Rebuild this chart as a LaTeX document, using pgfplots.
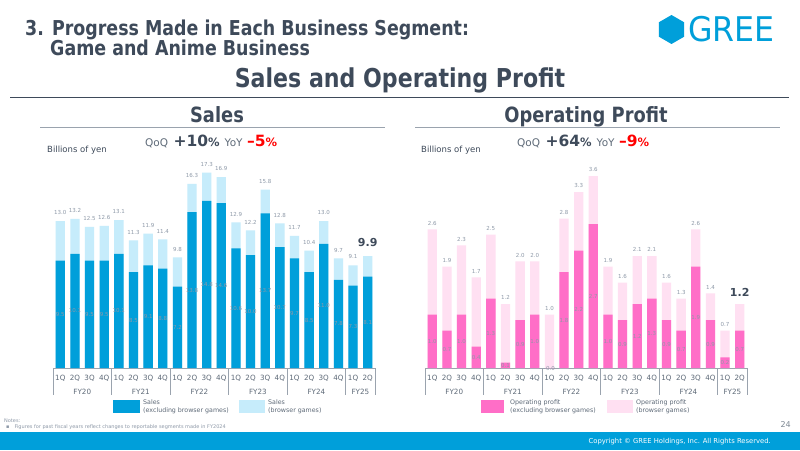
\documentclass[border=0pt]{standalone}
\usepackage{fontspec}
\setmainfont{DejaVu Sans}
\newfontfamily\titlefont[FakeStretch=0.85]{DejaVu Sans}
\usepackage{pgfplots}
\usepackage{pgfplotstable}
\pgfplotsset{compat=1.18}
\definecolor{slate}{HTML}{3E4A5A}
\definecolor{lblgrey}{HTML}{8E99A8}
\definecolor{tickgrey}{HTML}{5E6A78}
\definecolor{gblue}{HTML}{009FDA}
\definecolor{lblue}{HTML}{C6ECFB}
\definecolor{gpink}{HTML}{FF6EC7}
\definecolor{lpink}{HTML}{FFE0F2}
\definecolor{rulegrey}{HTML}{9AA3AE}

\pgfplotstableread{
i tot ex
0 13.0 9.5
1 13.2 10.1
2 12.5 9.5
3 12.6 9.5
4 13.1 10.1
5 11.3 8.5
6 11.9 9.1
7 11.4 8.8
8 9.8 7.2
9 16.3 13.8
10 17.3 14.8
11 16.9 14.6
12 12.9 10.6
13 12.2 10.0
14 15.8 13.7
15 12.8 10.7
16 11.7 9.7
17 10.4 8.5
18 13.0 11.0
19 9.7 7.8
20 9.1 7.3
21 9.9 8.1
}\salesdata

\pgfplotstableread{
i tot ex
0 2.6 1.0
1 1.9 0.7
2 2.3 1.0
3 1.7 0.4
4 2.5 1.3
5 1.2 0.1
6 2.0 0.9
7 2.0 1.0
8 1.0 -0.0
9 2.8 1.8
10 3.3 2.2
11 3.6 2.7
12 1.9 1.0
13 1.6 0.9
14 2.1 1.2
15 2.1 1.3
16 1.6 0.9
17 1.3 0.7
18 2.6 1.9
19 1.4 0.9
20 0.7 0.2
21 1.2 0.7
}\opdata

\pgfplotsset{
  gaxis/.style={
    anchor=south west, scale only axis, width=322pt,
    xmin=-0.5, xmax=21.5, ymin=0,
    axis x line*=bottom, axis y line=none,
    x axis line style={-, draw=rulegrey, line width=0.8pt},
    xtick={0,...,21},
    xticklabels={1Q,2Q,3Q,4Q,1Q,2Q,3Q,4Q,1Q,2Q,3Q,4Q,1Q,2Q,3Q,4Q,1Q,2Q,3Q,4Q,1Q,2Q},
    major tick length=0pt, ytick=\empty,
    xticklabel style={font=\fontsize{7.2}{7.2}\selectfont, text=tickgrey, inner sep=0pt, anchor=north, yshift=-7pt},
    clip=false,
  },
  toplbl/.style={draw=none, mark=none, nodes near coords, point meta=explicit symbolic,
    every node near coord/.style={font=\fontsize{5.5}{5.5}\selectfont, text=lblgrey, anchor=south, inner sep=0pt, yshift=#1}},
  midlbl/.style={draw=none, mark=none, nodes near coords, point meta=explicit symbolic,
    every node near coord/.style={font=\fontsize{5.5}{5.5}\selectfont, text=lblgrey, anchor=center, inner sep=0pt}},
  biglbl/.style={draw=none, mark=none, nodes near coords, point meta=explicit symbolic,
    every node near coord/.style={font=\bfseries\fontsize{11}{11}\selectfont, text=slate, anchor=south, inner sep=0pt, yshift=#1}},
}

\newcommand\yearbox{%
  \pgfplotsinvokeforeach{-0.5,3.5,7.5,11.5,15.5,19.5,21.5}{\draw[rulegrey, line width=0.8pt] (axis cs:##1,0) -- ++(0pt,-27pt);}
  \foreach \p/\t in {1.5/FY20,5.5/FY21,9.5/FY22,13.5/FY23,17.5/FY24,20.5/FY25}{%
    \edef\tmp{\noexpand\node[font=\noexpand\fontsize{7.2}{7.2}\noexpand\selectfont, text=tickgrey, inner sep=0pt] at (axis cs:\p,0) [yshift=-24pt] {\t};}\tmp}%
}

\newcommand\qoq[2]{{\color{tickgrey}\fontsize{10.5}{12}\selectfont QoQ}\hspace{5.5pt}{\bfseries\color{slate}\fontsize{15.5}{17}\selectfont #1{\fontsize{11.5}{12}\selectfont\%}}\hspace{5pt}{\color{tickgrey}\fontsize{10.5}{12}\selectfont YoY}\hspace{4.5pt}{\bfseries\color{red}\fontsize{15.5}{17}\selectfont –#2{\fontsize{11.5}{12}\selectfont\%}}}

\begin{document}
\begin{tikzpicture}
\useasboundingbox (0pt,0pt) rectangle (800pt,450pt);
\begin{scope}[x=1pt,y=1pt]
\fill[white] (0,0) rectangle (800,450);

% header
\node[anchor=base west, inner sep=0pt, text=slate, font=\titlefont\bfseries\fontsize{20.5}{20.5}\selectfont] at (25,414) {3. Progress Made in Each Business Segment:};
\node[anchor=base west, inner sep=0pt, text=slate, font=\titlefont\bfseries\fontsize{20.5}{20.5}\selectfont] at (50,394) {Game and Anime Business};
\node[anchor=base, inner sep=0pt, text=slate, font=\titlefont\bfseries\fontsize{26}{26}\selectfont] at (400,362) {Sales and Operating Profit};
\draw[slate, line width=0.9pt] (10,353) -- (789,353);

% logo
\fill[gblue] (671.5,420.5) +(90:14.5) -- +(150:14.5) -- +(210:14.5) -- +(270:14.5) -- +(330:14.5) -- +(30:14.5) -- cycle;
\node[anchor=west, inner sep=0pt, text=gblue, font=\fontsize{34}{34}\selectfont, xscale=0.93] at (688,420.5) {GREE};

% subtitles
\node[anchor=base, inner sep=0pt, text=slate, font=\titlefont\bfseries\fontsize{21}{21}\selectfont] at (217,327) {Sales};
\draw[rulegrey, line width=1.3pt] (40,322.5) -- (385,322.5);
\node[anchor=base, inner sep=0pt, text=slate, font=\titlefont\bfseries\fontsize{21}{21}\selectfont] at (586,327) {Operating Profit};
\draw[rulegrey, line width=1.3pt] (415,322.5) -- (780,322.5);

\node[anchor=west, inner sep=0pt, text=slate, font=\fontsize{8.5}{8.5}\selectfont] at (47,300) {Billions of yen};
\node[anchor=west, inner sep=0pt, text=slate, font=\fontsize{8.5}{8.5}\selectfont] at (421,300) {Billions of yen};

\node[anchor=base west, inner sep=0pt] at (145,303) {\qoq{+10}{5}};
\node[anchor=base west, inner sep=0pt] at (517,303) {\qoq{+64}{9}};

% legends
\fill[gblue] (113,37) rectangle (140,50);
\node[anchor=north west, inner sep=0pt, align=left, text=tickgrey, font=\fontsize{6.3}{8}\selectfont] at (143,50.5) {Sales\\(excluding browser games)};
\fill[lblue] (239,37) rectangle (265,50);
\node[anchor=north west, inner sep=0pt, align=left, text=tickgrey, font=\fontsize{6.3}{8}\selectfont] at (268,50.5) {Sales\\(browser games)};
\fill[gpink] (481,37) rectangle (504,50);
\node[anchor=north west, inner sep=0pt, align=left, text=tickgrey, font=\fontsize{6.3}{8}\selectfont] at (510,50.5) {Operating profit\\(excluding browser games)};
\fill[lpink] (607,37) rectangle (633,50);
\node[anchor=north west, inner sep=0pt, align=left, text=tickgrey, font=\fontsize{6.3}{8}\selectfont] at (636,50.5) {Operating profit\\(browser games)};

% notes
\node[anchor=west, inner sep=0pt, text=lblgrey, font=\fontsize{5}{5}\selectfont] at (4,29) {Notes:};
\node[anchor=west, inner sep=0pt, text=lblgrey, font=\fontsize{5}{5}\selectfont] at (6,22.5) {▪\hspace{5pt}Figures for past fiscal years reflect changes to reportable segments made in FY2024};

% footer
\fill[gblue] (0,0) rectangle (800,18);
\node[anchor=east, inner sep=0pt, text=white, font=\fontsize{6.8}{7}\selectfont] at (771,8.5) {Copyright © GREE Holdings, Inc. All Rights Reserved.};
\node[anchor=east, inner sep=0pt, text=tickgrey!80, font=\fontsize{8}{8}\selectfont] at (791,25) {24};
\end{scope}

% Sales chart
\begin{axis}[gaxis, at={(53pt,82pt)}, height=214.5pt, ymax=19]
\addplot[ybar, bar width=9.3pt, bar shift=0pt, fill=lblue, draw=none] table[x=i,y=tot]{\salesdata};
\addplot[ybar, bar width=9.3pt, bar shift=0pt, fill=gblue, draw=none] table[x=i,y=ex]{\salesdata};
\addplot[toplbl=6pt, skip coords between index={21}{22}] table[x=i,y=tot,meta=tot]{\salesdata};
\addplot[midlbl] table[x=i,y expr=\thisrow{ex}/2,meta=ex]{\salesdata};
\addplot[biglbl=9pt, skip coords between index={0}{21}] table[x=i,y=tot,meta=tot]{\salesdata};
\yearbox
\end{axis}

% Operating profit chart
\begin{axis}[gaxis, at={(425pt,82pt)}, height=213.33pt, ymax=4]
\addplot[ybar, bar width=9.3pt, bar shift=0pt, fill=lpink, draw=none] table[x=i,y=tot]{\opdata};
\addplot[ybar, bar width=9.3pt, bar shift=0pt, fill=gpink, draw=none] table[x=i,y=ex]{\opdata};
\addplot[toplbl=4pt, skip coords between index={21}{22}] table[x=i,y=tot,meta=tot]{\opdata};
\addplot[midlbl] table[x=i,y expr=\thisrow{ex}/2,meta=ex]{\opdata};
\addplot[biglbl=7pt, skip coords between index={0}{21}] table[x=i,y=tot,meta=tot]{\opdata};
\yearbox
\end{axis}
\end{tikzpicture}
\end{document}
